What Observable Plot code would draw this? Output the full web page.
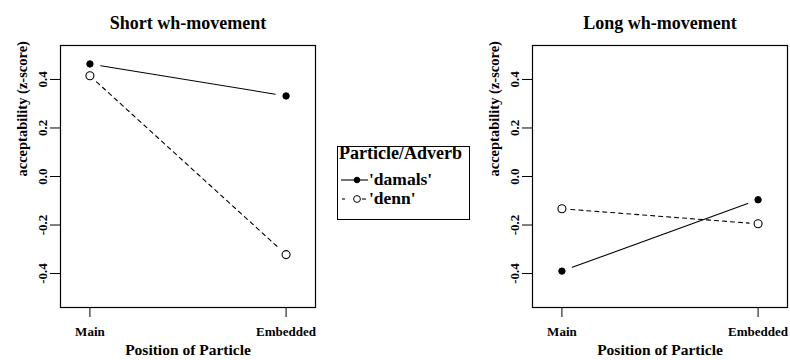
<!DOCTYPE html>
<html>
<head>
<meta charset="utf-8">
<script src="https://cdn.jsdelivr.net/npm/d3@7"></script>
<script src="https://cdn.jsdelivr.net/npm/@observablehq/plot@0.6"></script>
<style>
  html, body { margin: 0; padding: 0; background: #fff; }
  #wrap { position: relative; width: 790px; height: 360px; overflow: hidden; font-family: "Liberation Serif", "DejaVu Serif", serif; font-weight: bold; }
  #left, #right { position: absolute; top: 0; }
  #left { left: 0; }
  #right { left: 472px; }
  #legend { position: absolute; left: 337px; top: 146px; width: 133px; height: 74px; border: 1px solid #000; box-sizing: border-box; background: #fff; }
  #legend .ttl { position: absolute; left: 1px; top: -4px; font-size: 18px; white-space: nowrap; }
  #legend .item { position: absolute; left: 2px; font-size: 17.5px; display: flex; align-items: center; white-space: nowrap; }
  #legend svg { display: block; }
</style>
</head>
<body>
<div id="wrap">
  <div id="left"></div>
  <div id="right"></div>
  <div id="legend"></div>
</div>
<script>
const positions = ["Main", "Embedded"];
const positionIndex = [1, 2];
const seriesNames = ["'damals'", "'denn'"];
const legendTitle = "Particle/Adverb";
const panelTitles = ["Short wh-movement", "Long wh-movement"];
const xLabel = "Position of Particle";
const yLabel = "acceptability (z-score)";
const yTicks = [-0.4, -0.2, 0.0, 0.2, 0.4];

const shortDamals = [0.464, 0.332];
const shortDenn = [0.415, -0.322];
const longDamals = [-0.390, -0.096];
const longDenn = [-0.133, -0.195];

const FONT = "'Liberation Serif', 'DejaVu Serif', serif";

function panel(title, damals, denn, width, marginRight) {
  const solidPts = positionIndex.map((p, i) => ({x: p, y: damals[i]}));
  const openPts = positionIndex.map((p, i) => ({x: p, y: denn[i]}));
  const segSolid = [{x1: positionIndex[0], y1: damals[0], x2: positionIndex[1], y2: damals[1]}];
  const segDash = [{x1: positionIndex[0], y1: denn[0], x2: positionIndex[1], y2: denn[1]}];
  return Plot.plot({
    width, height: 360,
    marginLeft: 60, marginRight, marginTop: 45, marginBottom: 53,
    style: {fontFamily: FONT, fontWeight: "bold", fontSize: "13px", color: "#000", background: "#fff"},
    x: {domain: [0.85, 2.15]},
    y: {domain: [-0.54, 0.54]},
    marks: [
      Plot.frame({stroke: "#000", strokeWidth: 1.2}),
      Plot.axisX({ticks: positionIndex, tickSize: 10, tickPadding: 9, tickFormat: d => positions[d - 1], label: null, fontSize: 13}),
      Plot.axisY({ticks: yTicks, tickSize: 10, tickPadding: 4, tickRotate: -90, tickFormat: d => d.toFixed(1), label: null, fontSize: 13}),
      Plot.text([xLabel], {frameAnchor: "bottom", dy: 47, text: d => d, fontSize: 15.5, lineAnchor: "bottom"}),
      Plot.text([yLabel], {frameAnchor: "left", dx: -34, rotate: -90, text: d => d, fontSize: 14.5, lineAnchor: "bottom"}),
      Plot.text([title], {frameAnchor: "top", dy: -17, text: d => d, fontSize: 18, lineAnchor: "bottom"}),
      Plot.arrow(segSolid, {x1: "x1", y1: "y1", x2: "x2", y2: "y2", headLength: 0, insetStart: 11, insetEnd: 11,
        stroke: "#000", strokeWidth: 1.1}),
      Plot.arrow(segDash, {x1: "x1", y1: "y1", x2: "x2", y2: "y2", headLength: 0, insetStart: 9, insetEnd: 9,
        stroke: "#000", strokeWidth: 1.1, strokeDasharray: "4,4"}),
      // white gaps around the points (R type "b" style)
      Plot.dot(solidPts, {x: "x", y: "y", r: 9, fill: "#fff", stroke: null}),
      Plot.dot(openPts, {x: "x", y: "y", r: 7, fill: "#fff", stroke: null}),
      Plot.dot(solidPts, {x: "x", y: "y", r: 3.2, fill: "#000", stroke: "#000", strokeWidth: 1}),
      Plot.dot(openPts, {x: "x", y: "y", r: 4, fill: "#fff", stroke: "#000", strokeWidth: 1.1})
    ]
  });
}

document.getElementById("left").appendChild(panel(panelTitles[0], shortDamals, shortDenn, 330, 15));
document.getElementById("right").appendChild(panel(panelTitles[1], longDamals, longDenn, 318, 3));

// legend
const lg = document.getElementById("legend");
const t = document.createElement("div");
t.className = "ttl"; t.textContent = legendTitle; lg.appendChild(t);
seriesNames.forEach((name, i) => {
  const it = document.createElement("div");
  it.className = "item";
  it.style.top = (22 + i * 19) + "px";
  const solid = i === 0;
  it.innerHTML = `<svg width="29" height="12">
    ${solid ? '<line x1="1" y1="6" x2="28" y2="6" stroke="#000" stroke-width="1.1"/>'
            : '<line x1="2" y1="6" x2="5" y2="6" stroke="#000" stroke-width="1.1"/><line x1="22" y1="6" x2="26" y2="6" stroke="#000" stroke-width="1.1"/>'}
    <circle cx="17" cy="6" r="${solid ? 2.8 : 3.4}" fill="${solid ? '#000' : '#fff'}" stroke="#000" stroke-width="1"/>
  </svg><span>${name}</span>`;
  lg.appendChild(it);
});
</script>
</body>
</html>
